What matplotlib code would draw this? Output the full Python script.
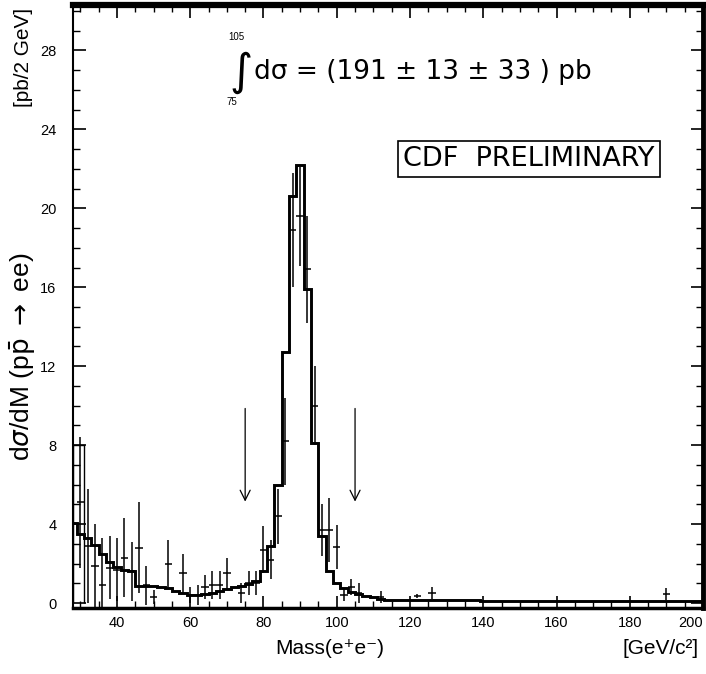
import numpy as np
import matplotlib
matplotlib.use("Agg")
import matplotlib.pyplot as plt
from matplotlib.ticker import MultipleLocator

plt.rcParams['font.family'] = ['Liberation Sans', 'DejaVu Sans']

# expected spectrum, 2 GeV bins centred on even masses
model_centers = list(range(28, 202, 2))
model_values = [4.05, 3.5, 3.3, 2.95, 2.5, 2.1, 1.85, 1.7, 1.6, 0.87,
                0.87, 0.87, 0.8, 0.75, 0.62, 0.5, 0.42, 0.4, 0.45, 0.5,
                0.6, 0.7, 0.8, 0.85, 0.95, 1.1, 1.6, 2.9, 6.0, 12.7,
                20.6, 22.2, 15.9, 8.1, 3.4, 1.6, 1.0, 0.75, 0.55, 0.45,
                0.35, 0.3, 0.2, 0.15, 0.15,
                0.15, 0.15, 0.15, 0.15, 0.15, 0.15, 0.15, 0.15, 0.15, 0.15,
                0.15, 0.12, 0.12, 0.12, 0.12, 0.12, 0.12, 0.12, 0.12, 0.12,
                0.12, 0.12, 0.12, 0.12, 0.12, 0.12, 0.12, 0.12, 0.12, 0.12,
                0.1, 0.1, 0.1, 0.1, 0.1, 0.1, 0.1, 0.1, 0.1, 0.1,
                0.1, 0.1]

# first (low mass) bin of the data histogram
box_edges = [28, 31]
box_value = [8.0]

# measured points with errors
data_mass = [30, 32, 34, 36, 38, 40, 42, 44, 46, 48,
             50, 54, 58, 60, 62, 64, 66, 68, 70, 74,
             76, 78, 80, 82, 84, 86, 88, 90, 92, 94,
             96, 98, 100, 102, 104, 106, 112, 122, 126, 190]
data_value = [5.1, 2.9, 1.9, 0.9, 1.8, 1.7, 2.3, 1.6, 2.8, 0.9,
              0.3, 2.0, 1.5, 0.4, 0.4, 0.8, 0.9, 0.9, 1.5, 0.5,
              1.0, 1.0, 2.7, 2.2, 4.4, 8.2, 18.9, 19.6, 16.9, 10.0,
              3.7, 3.7, 2.85, 0.4, 0.8, 0.5, 0.3, 0.35, 0.5, 0.45]
data_error = [3.3, 2.9, 2.1, 2.4, 1.6, 1.6, 2.0, 1.5, 2.3, 1.0,
              0.35, 1.2, 1.0, 0.4, 0.5, 0.6, 0.7, 0.7, 0.8, 0.5,
              0.6, 0.6, 1.2, 1.0, 1.4, 2.2, 2.9, 2.5, 2.7, 2.0,
              1.3, 1.6, 1.1, 0.3, 0.4, 0.5, 0.3, 0.1, 0.3, 0.3]

# integration window arrows
arrow_mass = [75, 105]
arrow_from = 10.0
arrow_to = 5.0

fig = plt.figure(figsize=(7.06, 6.74), dpi=100)
ax = fig.add_axes([0.1034, 0.0979, 0.8924, 0.8947])

edges = [c - 1 for c in model_centers] + [model_centers[-1] + 1]
ax.stairs(model_values, edges, color='black', lw=2.1, baseline=None)
ax.stairs(box_value, box_edges, color='black', lw=1.0, baseline=0)
ax.errorbar(data_mass, data_value, yerr=data_error, xerr=1, fmt='none',
            ecolor='black', elinewidth=1.1, capsize=0)

for m in arrow_mass:
    ax.annotate('', xy=(m, arrow_to), xytext=(m, arrow_from),
                arrowprops=dict(arrowstyle='->', color='black', lw=0.9,
                                mutation_scale=18))

ax.set_xlim(28, 200)
ax.set_ylim(-0.25, 30.3)
ax.xaxis.set_major_locator(MultipleLocator(20))
ax.xaxis.set_minor_locator(MultipleLocator(5))
ax.yaxis.set_major_locator(MultipleLocator(4))
ax.yaxis.set_minor_locator(MultipleLocator(1))
ax.tick_params(which='both', direction='in', top=True, right=True)
ax.tick_params(which='major', length=9, width=1.2)
ax.tick_params(which='minor', length=5, width=1.0)
ax.tick_params(axis='y', pad=12, labelsize=10.5)
ax.tick_params(axis='x', pad=6, labelsize=10.5)
ax.set_yticks(range(0, 29, 4))
ax.set_xticks(range(40, 201, 20))
# last label sits at the right edge, keep it inside the figure
ax.get_xticklabels()[-1].set_horizontalalignment('right')

ax.spines['top'].set_linewidth(4.5)
ax.spines['right'].set_linewidth(3.5)
ax.spines['bottom'].set_linewidth(2.5)
ax.spines['left'].set_linewidth(1.5)

# integral annotation
ax.text(73.9, 26.9, '\u222b', fontsize=32, ha='center', va='center',
        family=['DejaVu Sans'])
ax.text(72.5, 28.7, '105', fontsize=7, ha='center', va='center')
ax.text(71.3, 25.4, '75', fontsize=7, ha='center', va='center')
ax.text(77.5, 26.9, 'd\u03c3 = (191 \u00b1 13 \u00b1 33 ) pb', fontsize=19,
        ha='left', va='center', family=['DejaVu Sans'])

ax.text(152.5, 22.5, 'CDF  PRELIMINARY', fontsize=19.5, ha='center', va='center',
        family=['DejaVu Sans'],
        bbox=dict(boxstyle='square,pad=0.2', fc='white', ec='black', lw=1.2))

fig.text(0.467, 0.038, 'Mass(e\u207ae\u207b)', fontsize=15, ha='center', va='center')
fig.text(0.935, 0.038, '[GeV/c\u00b2]', fontsize=15, ha='center', va='center')
fig.text(0.033, 0.47, r'd$\sigma$/dM (p$\bar{\mathrm{p}}$ $\rightarrow$ ee)',
         fontsize=19, rotation=90, ha='center', va='center')
fig.text(0.033, 0.915, '[pb/2 GeV]', fontsize=15, rotation=90,
         ha='center', va='center')

fig.savefig('out.png', dpi=100)
